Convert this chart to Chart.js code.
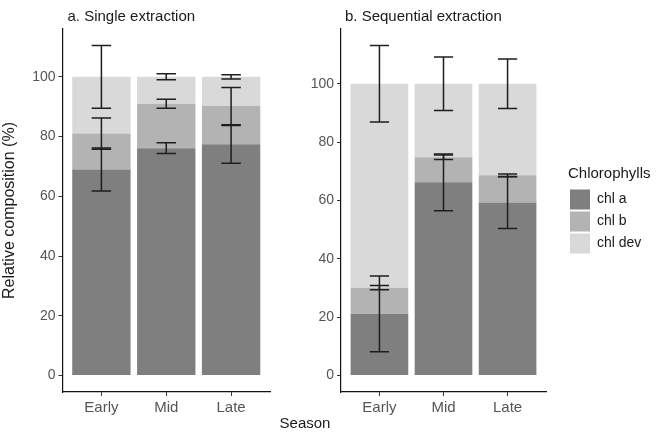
<!DOCTYPE html>
<html>
<head>
<meta charset="utf-8">
<script src="https://cdn.jsdelivr.net/npm/chart.js@4/dist/chart.umd.min.js"></script>
<style>
  html, body { margin: 0; padding: 0; background: #fff; }
  body { width: 657px; height: 442px; position: relative; overflow: hidden; }
  .wrap { position: absolute; top: 0; height: 442px; }
</style>
</head>
<body>
<div class="wrap" id="wa" style="left:0;width:285px;"><canvas id="ca"></canvas></div>
<div class="wrap" id="wb" style="left:270px;width:387px;"><canvas id="cb"></canvas></div>
<script>
// ---------- data ----------
const categories = ['Early', 'Mid', 'Late'];
const seriesNames = ['chl a', 'chl b', 'chl dev'];
const yTicks = [0, 20, 40, 60, 80, 100];

// a. Single extraction (mean share of each pigment, %)
const singleChlA   = [69.0, 76.1, 77.4];
const singleChlB   = [12.0, 14.9, 12.8];
const singleChlDev = [19.0,  9.0,  9.8];
// error (sd) drawn around the top of each stacked segment
const singleSdA    = [7.2, 1.8, 6.3];
const singleSdB    = [5.2, 1.5, 6.2];
const singleSdDev  = [10.5, 1.0, 0.7];

// b. Sequential extraction
const seqChlA   = [21.1, 66.2, 59.3];
const seqChlB   = [ 9.0,  8.6,  9.3];
const seqChlDev = [69.9, 25.2, 31.4];
const seqSdA    = [13.0, 9.7, 8.9];
const seqSdB    = [0.75, 0.75, 0.5];
const seqSdDev  = [13.1, 9.2, 8.5];

const fills = ['#7f7f7f', '#b3b3b3', '#d9d9d9'];
const FONT = '"Liberation Sans", Arial, Helvetica, sans-serif';
const TICK_COLOR = '#555555';
const TEXT_COLOR = '#1a1a1a';

// ---------- helpers ----------
function makeDatasets(seriesList) {
  return seriesList.map((vals, k) => ({
    label: seriesNames[k],
    data: vals.map((v, i) => ({ x: i + 1, y: v })),
    backgroundColor: fills[k],
    borderColor: fills[k],
    borderWidth: 0,
    stack: 's',
    categoryPercentage: 1,
    barPercentage: 0.9
  }));
}

function yRange(seriesList, sdList) {
  let top = 0;
  for (let i = 0; i < categories.length; i++) {
    let cum = 0;
    seriesList.forEach((s, k) => { cum += s[i]; top = Math.max(top, cum + sdList[k][i]); });
  }
  const pad = top * 0.05;
  return { min: -pad, max: top + pad };
}

const errorBars = {
  id: 'errorBars',
  afterDatasetsDraw(chart, args, opts) {
    const { ctx, scales: { x, y } } = chart;
    const ds = chart.data.datasets;
    ctx.save();
    ctx.strokeStyle = opts.color;
    ctx.lineWidth = opts.lineWidth;
    for (let i = 0; i < categories.length; i++) {
      let cum = 0;
      ds.forEach((d, k) => {
        cum += d.data[i].y;
        const sd = opts.sd[k][i];
        const xc = x.getPixelForValue(i + 1);
        const xl = x.getPixelForValue(i + 1 - opts.cap / 2);
        const xr = x.getPixelForValue(i + 1 + opts.cap / 2);
        const yt = y.getPixelForValue(cum + sd);
        const yb = y.getPixelForValue(cum - sd);
        ctx.beginPath();
        ctx.moveTo(xc, yt); ctx.lineTo(xc, yb);
        ctx.moveTo(xl, yt); ctx.lineTo(xr, yt);
        ctx.moveTo(xl, yb); ctx.lineTo(xr, yb);
        ctx.stroke();
      });
    }
    ctx.restore();
  }
};

const placeBoxes = {
  id: 'placeBoxes',
  afterLayout(chart, args, opts) {
    if (chart.titleBlock && opts.titleShift) {
      chart.titleBlock.left += opts.titleShift;
      chart.titleBlock.right += opts.titleShift;
    }
    if (chart.legend && opts.legendLeft !== undefined) {
      const lg = chart.legend;
      lg.left = opts.legendLeft;
      lg.right = chart.width;
      lg.width = lg.right - lg.left;
      lg.top = opts.legendTop;
      lg.bottom = chart.height;
      lg.height = lg.bottom - lg.top;
    }
  }
};

const extraText = {
  id: 'extraText',
  afterDraw(chart, args, opts) {
    if (!opts.text) return;
    const ctx = chart.ctx;
    ctx.save();
    ctx.font = opts.font;
    ctx.fillStyle = opts.color;
    ctx.textAlign = 'center';
    ctx.textBaseline = 'middle';
    ctx.fillText(opts.text, opts.x, opts.y);
    ctx.restore();
  }
};

function makeChart(canvasId, cfg) {
  const r = yRange(cfg.series, cfg.sd);
  return new Chart(document.getElementById(canvasId), {
    type: 'bar',
    data: { datasets: makeDatasets(cfg.series) },
    plugins: [errorBars, placeBoxes, extraText],
    options: {
      responsive: true,
      maintainAspectRatio: false,
      animation: false,
      events: [],
      layout: { padding: cfg.padding },
      scales: {
        x: {
          type: 'linear',
          stacked: true,
          offset: false,
          min: 0.4, max: 3.6,
          afterBuildTicks: s => { s.ticks = categories.map((c, i) => ({ value: i + 1 })); },
          afterFit: s => { s.height = 50; },
          ticks: {
            callback: v => categories[v - 1],
            font: { family: FONT, size: 15 },
            color: TICK_COLOR,
            padding: 3,
            maxRotation: 0,
            autoSkip: false
          },
          grid: { display: true, offset: false, drawOnChartArea: false, drawTicks: true, tickLength: 4, color: '#333333', lineWidth: 1 },
          border: { display: true, color: '#111111', width: 1.2 }
        },
        y: {
          stacked: true,
          min: r.min, max: r.max,
          afterBuildTicks: s => { s.ticks = yTicks.map(v => ({ value: v })); },
          afterFit: s => { s.width = cfg.yWidth; },
          ticks: { font: { family: FONT, size: 14 }, color: TICK_COLOR, padding: 3 },
          grid: { display: true, drawOnChartArea: false, drawTicks: true, tickLength: 4, color: '#333333', lineWidth: 1 },
          border: { display: true, color: '#111111', width: 1.2 },
          title: cfg.yTitle ? {
            display: true, text: cfg.yTitle,
            font: { family: FONT, size: 16 }, color: TEXT_COLOR,
            padding: { top: 0, bottom: 0 }
          } : { display: false }
        }
      },
      plugins: {
        tooltip: { enabled: false },
        title: {
          display: true, text: cfg.title, align: 'start', fullSize: false,
          font: { family: FONT, size: 15, weight: 'normal' }, color: TEXT_COLOR,
          padding: { top: 8, bottom: 3 }
        },
        legend: cfg.legend ? {
          display: true, position: 'right', align: 'start', maxWidth: 40,
          labels: {
            boxWidth: 20, boxHeight: 20, padding: 2,
            font: { family: FONT, size: 14 }, color: TEXT_COLOR
          },
          title: {
            display: true, text: 'Chlorophylls', position: 'start',
            font: { family: FONT, size: 15 }, color: TEXT_COLOR,
            padding: { top: 0, bottom: 3 }
          }
        } : { display: false },
        errorBars: { sd: cfg.sd, cap: 0.3, color: '#1e1e1e', lineWidth: 1.5 },
        placeBoxes: cfg.place,
        extraText: cfg.extra || {}
      }
    }
  });
}

makeChart('ca', {
  title: 'a. Single extraction',
  series: [singleChlA, singleChlB, singleChlDev],
  sd: [singleSdA, singleSdB, singleSdDev],
  yTitle: 'Relative composition (%)',
  yWidth: 62.5,
  padding: { left: 0, right: 15, top: 0, bottom: 0 },
  legend: false,
  place: { titleShift: 5 }
});

makeChart('cb', {
  title: 'b. Sequential extraction',
  series: [seqChlA, seqChlB, seqChlDev],
  sd: [seqSdA, seqSdB, seqSdDev],
  yTitle: null,
  yWidth: 71,
  padding: { left: 0, right: 71, top: 0, bottom: 0 },
  legend: true,
  place: { titleShift: 4, legendLeft: 298, legendTop: 166.5 },
  extra: { text: 'Season', x: 35, y: 424, font: '15px ' + FONT, color: TEXT_COLOR }
});
</script>
</body>
</html>
